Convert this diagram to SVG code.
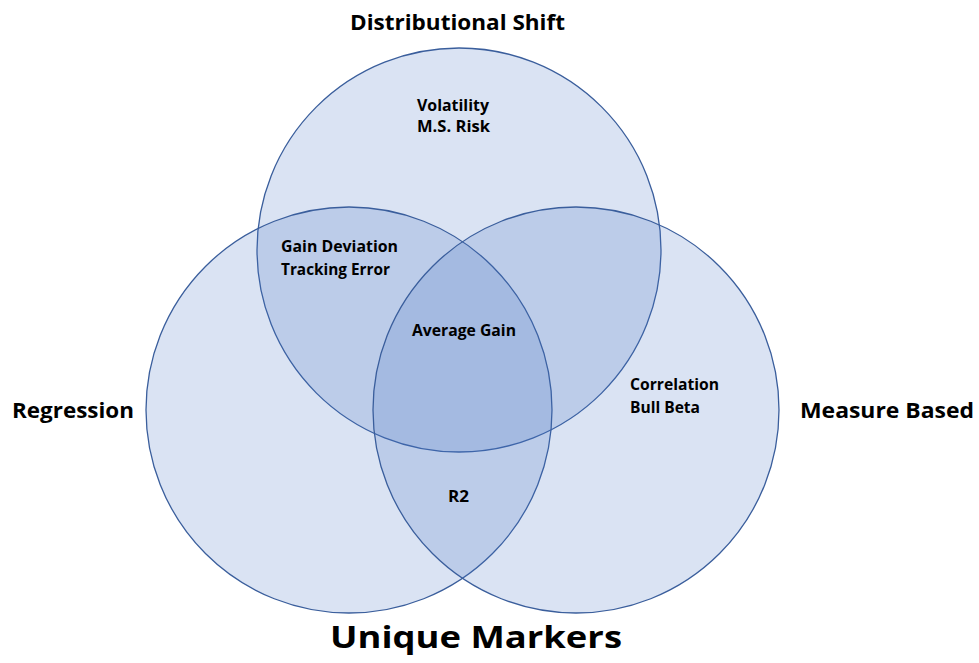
<svg xmlns="http://www.w3.org/2000/svg" width="979" height="663" viewBox="0 0 979 663">
  <style>
    .set { fill: #4472c4; fill-opacity: 0.2; stroke: #3a5e9c; stroke-width: 1.3; }
    .title { font-family: "Open Sans", "Liberation Sans", sans-serif; font-weight: bold; fill: #000; }
    .item { font-family: "Open Sans", "Liberation Sans", sans-serif; font-weight: bold; font-size: 16px; fill: #000; }
  </style>
  <rect width="979" height="663" fill="#ffffff"/>

  <!-- three overlapping sets -->
  <g id="set-distributional-shift">
    <circle class="set" cx="459" cy="250" r="202"/>
  </g>
  <g id="set-regression">
    <circle class="set" cx="349" cy="410" r="203"/>
  </g>
  <g id="set-measure-based">
    <circle class="set" cx="576" cy="410" r="203"/>
  </g>
  <g id="connectors"/>

  <!-- set titles -->
  <g id="label-distributional-shift">
    <text class="title" x="350" y="30" font-size="22" textLength="215" lengthAdjust="spacingAndGlyphs">Distributional Shift</text>
  </g>
  <g id="label-regression">
    <text class="title" x="12" y="418" font-size="22" textLength="122" lengthAdjust="spacingAndGlyphs">Regression</text>
  </g>
  <g id="label-measure-based">
    <text class="title" x="800" y="418" font-size="22" textLength="174" lengthAdjust="spacingAndGlyphs">Measure Based</text>
  </g>
  <g id="label-unique-markers">
    <text class="title" x="330" y="648" font-size="31" textLength="292" lengthAdjust="spacingAndGlyphs">Unique Markers</text>
  </g>

  <!-- region contents -->
  <g id="region-distributional">
    <text class="item" x="417" y="111" textLength="72" lengthAdjust="spacingAndGlyphs">Volatility</text>
    <text class="item" x="417" y="132" textLength="73" lengthAdjust="spacingAndGlyphs">M.S. Risk</text>
  </g>
  <g id="region-distributional-regression">
    <text class="item" x="281" y="252" textLength="117" lengthAdjust="spacingAndGlyphs">Gain Deviation</text>
    <text class="item" x="281" y="275" textLength="109" lengthAdjust="spacingAndGlyphs">Tracking Error</text>
  </g>
  <g id="region-all">
    <text class="item" x="412" y="336" textLength="104" lengthAdjust="spacingAndGlyphs">Average Gain</text>
  </g>
  <g id="region-distributional-measure">
    <text class="item" x="630" y="390" textLength="89" lengthAdjust="spacingAndGlyphs">Correlation</text>
    <text class="item" x="630" y="413" textLength="70" lengthAdjust="spacingAndGlyphs">Bull Beta</text>
  </g>
  <g id="region-regression-measure">
    <text class="item" x="448" y="502" textLength="21" lengthAdjust="spacingAndGlyphs">R2</text>
  </g>
</svg>
